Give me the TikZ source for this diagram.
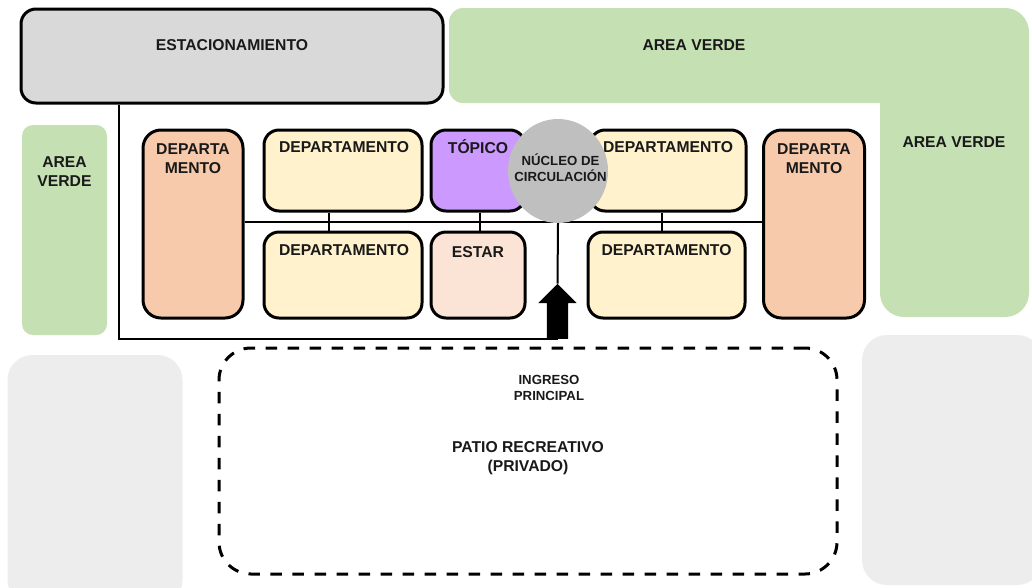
\documentclass[tikz,border=0pt]{standalone}
\usepackage{fontspec}
\setmainfont{Liberation Sans}
\usetikzlibrary{shapes.geometric,shapes.arrows}
\definecolor{verde}{HTML}{C5E0B3}
\definecolor{gris}{HTML}{D9D9D9}
\definecolor{grisclaro}{HTML}{EDEDED}
\definecolor{naranja}{HTML}{F7CAAC}
\definecolor{crema}{HTML}{FFF2CC}
\definecolor{lila}{HTML}{CC99FF}
\definecolor{rosado}{HTML}{FBE4D5}
\definecolor{nucleo}{HTML}{BFBFBF}
\tikzset{
  x=1pt,y=-1pt,
  lbl/.style={font=\bfseries\fontsize{15.7}{19}\selectfont,align=center,inner sep=0pt,text=black!90},
  small/.style={font=\bfseries\fontsize{13.2}{16}\selectfont,align=center,inner sep=0pt,text=black!90},
  room/.style={draw=black,line width=3pt,rectangle,inner sep=0pt,rounded corners=15pt},
  tall/.style={room,rounded corners=18pt},
  soft/.style={rectangle,inner sep=0pt,draw=none},
  link/.style={draw=black,line width=2pt},
}
\begin{document}
\begin{tikzpicture}
\clip (0,0) rectangle (1032,587);
\fill[white] (0,0) rectangle (1032,587);
% background areas
\fill[verde] (880,200) [rounded corners=0pt] -- (880,103) [rounded corners=14pt] -- (449,103) -- (449,8) [rounded corners=24pt] -- (1029,8) -- (1029,317) -- (880,317) -- cycle;
\node[lbl] (verdeA) at (694,45.5) {AREA VERDE};
\node[lbl] (verdeB) at (954,142.5) {AREA VERDE};
\node[soft,fill=verde,rounded corners=11pt,minimum width=85pt,minimum height=210pt,
  label={[lbl,yshift=58pt]center:AREA\\VERDE}] (verdeC) at (64.5,230) {};
\node[soft,fill=grisclaro,rounded corners=25pt,minimum width=175pt,minimum height=250pt] (grisA) at (95,480) {};
\node[soft,fill=grisclaro,rounded corners=25pt,minimum width=180pt,minimum height=250pt] (grisB) at (952,460) {};
\node[draw=black,line width=3pt,dash pattern=on 11.5pt off 10.5pt,rectangle,inner sep=0pt,rounded corners=32pt,
  minimum width=618pt,minimum height=226pt,
  label={[lbl,xshift=0pt,yshift=3pt]center:PATIO RECREATIVO\\(PRIVADO)}] (patio) at (528,461) {};
\node[small] (ingreso) at (549,387.5) {INGRESO\\PRINCIPAL};
% parking and rooms
\node[room,fill=gris,minimum width=422pt,minimum height=94pt,
  label={[lbl,yshift=10.5pt]center:ESTACIONAMIENTO}] (parking) at (232,56) {};
\node[single arrow,fill=black,draw=none,inner xsep=0pt,inner ysep=10.5pt,rotate=90,
  single arrow head extend=8.5pt,single arrow head indent=0pt,
  minimum width=38pt,minimum height=55pt,anchor=tail] (flecha) at (557.5,339) {};
\draw[link] ([xshift=-113pt]parking.south) |- (flecha.tail);
\node[tall,fill=naranja,minimum width=100pt,minimum height=188pt,
  label={[lbl,yshift=65.5pt]center:DEPARTA\\MENTO}] (depL) at (193,224) {};
\node[room,fill=crema,minimum width=158pt,minimum height=81pt,
  label={[lbl,xshift=1pt,yshift=23pt]center:DEPARTAMENTO}] (d1) at (343,170.5) {};
\node[room,fill=crema,minimum width=158pt,minimum height=86pt,
  label={[lbl,xshift=1pt,yshift=24.5pt]center:DEPARTAMENTO}] (d2) at (343,275) {};
\node[room,fill=lila,minimum width=94pt,minimum height=81pt,
  label={[lbl,yshift=24pt]center:TÓPICO}] (topico) at (478,170.5) {};
\node[room,fill=rosado,minimum width=94pt,minimum height=86pt,
  label={[lbl,yshift=23pt]center:ESTAR}] (estar) at (478,275) {};
\node[room,fill=crema,minimum width=156pt,minimum height=81pt,
  label={[lbl,yshift=23pt]center:DEPARTAMENTO}] (d3) at (668,170.5) {};
\node[room,fill=crema,minimum width=157pt,minimum height=86pt,
  label={[lbl,yshift=24.5pt]center:DEPARTAMENTO}] (d4) at (666.5,275) {};
\node[tall,fill=naranja,minimum width=101pt,minimum height=188pt,
  label={[lbl,yshift=65.5pt]center:DEPARTA\\MENTO}] (depR) at (814,224) {};
% connectors
\coordinate (spine) at (558,222.3);
\draw[link] (depL.east |- spine) -- (depR.west |- spine);
\draw[link] ([xshift=-14pt]d1.south) -- ([xshift=-14pt]d2.north);
\draw[link] ([xshift=2pt]topico.south) -- ([xshift=2pt]estar.north);
\draw[link] ([xshift=-6pt]d3.south) -- ([xshift=-4.5pt]d4.north);
% circulation core
\node[ellipse,fill=nucleo,draw=none,inner sep=0pt,minimum width=100pt,minimum height=104pt] (core) at (558,171) {};
\node[small] (coretext) at (560.5,168) {NÚCLEO DE\\CIRCULACIÓN};
\draw[link] (core.south) -- (flecha.tip);
\end{tikzpicture}
\end{document}
